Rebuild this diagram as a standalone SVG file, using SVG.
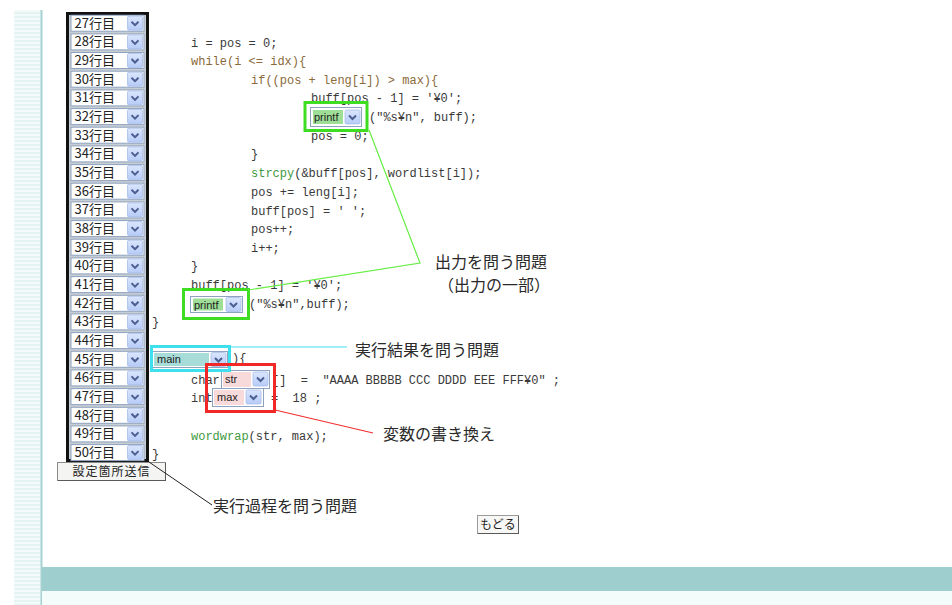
<svg xmlns="http://www.w3.org/2000/svg" xmlns:xlink="http://www.w3.org/1999/xlink" width="952" height="605" viewBox="0 0 952 605">
<defs>
<pattern id="stripes" x="0" y="0" width="4" height="4" patternUnits="userSpaceOnUse">
<rect width="4" height="4" fill="#e6f3f3"/>
<rect y="2" width="4" height="2" fill="#f3fafa"/>
</pattern>
<linearGradient id="btng" x1="0" y1="0" x2="0" y2="1">
<stop offset="0" stop-color="#dbe6fd"/>
<stop offset="1" stop-color="#b6cbf7"/>
</linearGradient>
<symbol id="btn" overflow="visible">
<rect x="0" y="0" width="15" height="14" rx="1.5" fill="url(#btng)" stroke="#a8bde8" stroke-width="0.8"/>
<path d="M4,5.5 L7.5,9 L11,5.5" fill="none" stroke="#4a5e90" stroke-width="2"/>
</symbol>
<symbol id="row" overflow="visible">
<rect x="0.5" y="0.5" width="73" height="16" fill="#ffffff" stroke="#8ea3bf"/>
<use xlink:href="#btn" x="57" y="1.5"/>
</symbol>
</defs>
<style>
.code{font-family:"Liberation Mono","DejaVu Sans Mono",monospace;font-size:12px;fill:#3a3a3a}
.kw{fill:#8a6a3a}
.fn{fill:#3f9a3f}
.rowt{font-family:"Noto Sans CJK JP","Noto Sans",sans-serif;font-size:13px;fill:#222}
.dd{font-family:"Liberation Sans","Noto Sans",sans-serif;font-size:11px;fill:#222}
.note{font-family:"Noto Sans CJK JP",sans-serif;font-size:16px;fill:#2a2a2a}
.btnt{font-family:"Noto Sans CJK JP",sans-serif;font-size:12px;fill:#222}
</style>
<rect width="952" height="605" fill="#ffffff"/>
<!-- page frame -->
<g id="page">
<rect x="14" y="10" width="27" height="595" fill="url(#stripes)"/>
<rect x="40.5" y="10" width="2" height="595" fill="#a6d2d2"/>
<rect x="42" y="567" width="910" height="24" fill="#9ecfce"/>
<rect x="42" y="591" width="910" height="14" fill="#f4fbfb"/>
</g>
<!-- line selector column -->
<g id="line-selector">
<rect x="67.5" y="13.5" width="80" height="447" fill="#c9cdd4" stroke="#111" stroke-width="3"/>
<g transform="translate(70.5,14.7)"><use xlink:href="#row"/><text class="rowt" x="4" y="13">27行目</text></g>
<g transform="translate(70.5,33.4)"><use xlink:href="#row"/><text class="rowt" x="4" y="13">28行目</text></g>
<g transform="translate(70.5,52.0)"><use xlink:href="#row"/><text class="rowt" x="4" y="13">29行目</text></g>
<g transform="translate(70.5,70.7)"><use xlink:href="#row"/><text class="rowt" x="4" y="13">30行目</text></g>
<g transform="translate(70.5,89.4)"><use xlink:href="#row"/><text class="rowt" x="4" y="13">31行目</text></g>
<g transform="translate(70.5,108.1)"><use xlink:href="#row"/><text class="rowt" x="4" y="13">32行目</text></g>
<g transform="translate(70.5,126.7)"><use xlink:href="#row"/><text class="rowt" x="4" y="13">33行目</text></g>
<g transform="translate(70.5,145.4)"><use xlink:href="#row"/><text class="rowt" x="4" y="13">34行目</text></g>
<g transform="translate(70.5,164.1)"><use xlink:href="#row"/><text class="rowt" x="4" y="13">35行目</text></g>
<g transform="translate(70.5,182.7)"><use xlink:href="#row"/><text class="rowt" x="4" y="13">36行目</text></g>
<g transform="translate(70.5,201.4)"><use xlink:href="#row"/><text class="rowt" x="4" y="13">37行目</text></g>
<g transform="translate(70.5,220.1)"><use xlink:href="#row"/><text class="rowt" x="4" y="13">38行目</text></g>
<g transform="translate(70.5,238.7)"><use xlink:href="#row"/><text class="rowt" x="4" y="13">39行目</text></g>
<g transform="translate(70.5,257.4)"><use xlink:href="#row"/><text class="rowt" x="4" y="13">40行目</text></g>
<g transform="translate(70.5,276.1)"><use xlink:href="#row"/><text class="rowt" x="4" y="13">41行目</text></g>
<g transform="translate(70.5,294.8)"><use xlink:href="#row"/><text class="rowt" x="4" y="13">42行目</text></g>
<g transform="translate(70.5,313.4)"><use xlink:href="#row"/><text class="rowt" x="4" y="13">43行目</text></g>
<g transform="translate(70.5,332.1)"><use xlink:href="#row"/><text class="rowt" x="4" y="13">44行目</text></g>
<g transform="translate(70.5,350.8)"><use xlink:href="#row"/><text class="rowt" x="4" y="13">45行目</text></g>
<g transform="translate(70.5,369.4)"><use xlink:href="#row"/><text class="rowt" x="4" y="13">46行目</text></g>
<g transform="translate(70.5,388.1)"><use xlink:href="#row"/><text class="rowt" x="4" y="13">47行目</text></g>
<g transform="translate(70.5,406.8)"><use xlink:href="#row"/><text class="rowt" x="4" y="13">48行目</text></g>
<g transform="translate(70.5,425.4)"><use xlink:href="#row"/><text class="rowt" x="4" y="13">49行目</text></g>
<g transform="translate(70.5,444.1)"><use xlink:href="#row"/><text class="rowt" x="4" y="13">50行目</text></g>
</g>
<g id="send-button">
<rect x="57.5" y="462.5" width="108" height="18" fill="#f4f4f2" stroke="#8a8a8a"/>
<line x1="58" y1="480.5" x2="166" y2="480.5" stroke="#5a5a5a"/>
<line x1="165.5" y1="463" x2="165.5" y2="481" stroke="#5a5a5a"/>
<text class="btnt" x="111.5" y="476" text-anchor="middle" letter-spacing="1">設定箇所送信</text>
</g>
<!-- code -->
<g id="code">
<text class="code" x="191" y="47">i = pos = 0;</text>
<text class="code kw" x="191" y="65">while(i &lt;= idx){</text>
<text class="code kw" x="251" y="84">if((pos + leng[i]) &gt; max){</text>
<text class="code" x="311" y="102">buff[pos - 1] = '¥0';</text>
<text class="code" x="369" y="121">("%s¥n", buff);</text>
<text class="code" x="311" y="140">pos = 0;</text>
<text class="code" x="251" y="158">}</text>
<text class="code" x="251" y="177"><tspan class="fn">strcpy</tspan>(&amp;buff[pos], wordlist[i]);</text>
<text class="code" x="251" y="196">pos += leng[i];</text>
<text class="code" x="251" y="215">buff[pos] = ' ';</text>
<text class="code" x="251" y="233">pos++;</text>
<text class="code" x="251" y="252">i++;</text>
<text class="code" x="191" y="270">}</text>
<text class="code" x="191" y="289">buff[pos - 1] = '¥0';</text>
<text class="code" x="249" y="308">("%s¥n",buff);</text>
<text class="code" x="152" y="326">}</text>
<text class="code" x="232" y="362">){</text>
<text class="code" x="191" y="384">char</text>
<text class="code" x="272" y="384" xml:space="preserve">[]  =  "AAAA BBBBB CCC DDDD EEE FFF¥0" ;</text>
<text class="code" x="191" y="402">int</text>
<text class="code" x="271" y="402" xml:space="preserve">=  18 ;</text>
<text class="code" x="191" y="440"><tspan class="fn">wordwrap</tspan>(str, max);</text>
<text class="code" x="152" y="458">}</text>
</g>
<!-- dropdowns in code -->
<g id="dd-printf1">
<rect x="310.5" y="107.5" width="51" height="19" fill="#fff" stroke="#8ea3bf"/>
<rect x="313" y="110" width="30" height="14" fill="#9ede97"/>
<text class="dd" x="314" y="121">printf</text>
<use xlink:href="#btn" x="345" y="110"/>
</g>
<g id="dd-printf2">
<rect x="190.5" y="296.5" width="52" height="16" fill="#fff" stroke="#8ea3bf"/>
<rect x="193" y="298.5" width="30" height="12" fill="#9ede97"/>
<text class="dd" x="194" y="308.5">printf</text>
<use xlink:href="#btn" x="226" y="297.5"/>
</g>
<g id="dd-main">
<rect x="152.5" y="351.5" width="75" height="16" fill="#fff" stroke="#8ea3bf"/>
<rect x="154" y="353" width="55" height="13" fill="#a7dcd8"/>
<text class="dd" x="157" y="363">main</text>
<use xlink:href="#btn" x="211" y="352.5"/>
</g>
<g id="dd-str">
<rect x="221.5" y="370.5" width="48" height="18" fill="#fff" stroke="#8ea3bf"/>
<rect x="223" y="372" width="28" height="15" fill="#f8dada"/>
<text class="dd" x="225" y="383">str</text>
<use xlink:href="#btn" x="253" y="372"/>
</g>
<g id="dd-max">
<rect x="212.5" y="388.5" width="51" height="18" fill="#fff" stroke="#8ea3bf"/>
<rect x="214" y="390" width="30" height="15" fill="#f8dada"/>
<text class="dd" x="217" y="401">max</text>
<use xlink:href="#btn" x="246" y="390"/>
</g>
<!-- highlight boxes -->
<g id="hl-output">
<rect x="305" y="102.5" width="62" height="28" fill="none" stroke="#3fdd22" stroke-width="3"/>
<rect x="183.5" y="289.5" width="65" height="29" fill="none" stroke="#3fdd22" stroke-width="3"/>
</g>
<g id="hl-result">
<rect x="151.5" y="346.5" width="78" height="24" fill="none" stroke="#3fe0ee" stroke-width="3"/>
</g>
<g id="hl-var">
<rect x="206.5" y="364.5" width="68" height="47" fill="none" stroke="#f02828" stroke-width="3"/>
</g>
<!-- connectors -->
<g id="connectors" fill="none">
<polyline points="369,130 420,263 248,290" stroke="#66ee44" stroke-width="1.2"/>
<line x1="231" y1="347" x2="347" y2="347" stroke="#44e0ee" stroke-width="1.2"/>
<line x1="275" y1="410" x2="373" y2="433" stroke="#f03030" stroke-width="1.2"/>
<line x1="149" y1="462" x2="212" y2="505" stroke="#222" stroke-width="1"/>
</g>
<!-- notes -->
<g id="note-output">
<text class="note" x="435" y="268" font-size="15.5">出力を問う問題</text>
<text class="note" x="438" y="291" font-size="15">（出力の一部）</text>
</g>
<g id="note-result"><text class="note" x="355" y="356">実行結果を問う問題</text></g>
<g id="note-var"><text class="note" x="383" y="440">変数の書き換え</text></g>
<g id="note-process"><text class="note" x="213" y="512">実行過程を問う問題</text></g>
<g id="back-button">
<rect x="477.5" y="515.5" width="41" height="18" fill="#f7f7f5" stroke="#9a9a9a"/>
<line x1="478" y1="533.5" x2="519" y2="533.5" stroke="#5a5a5a"/>
<line x1="518.5" y1="516" x2="518.5" y2="534" stroke="#5a5a5a"/>
<text class="btnt" x="498" y="529" text-anchor="middle" font-size="11">もどる</text>
</g>
</svg>
